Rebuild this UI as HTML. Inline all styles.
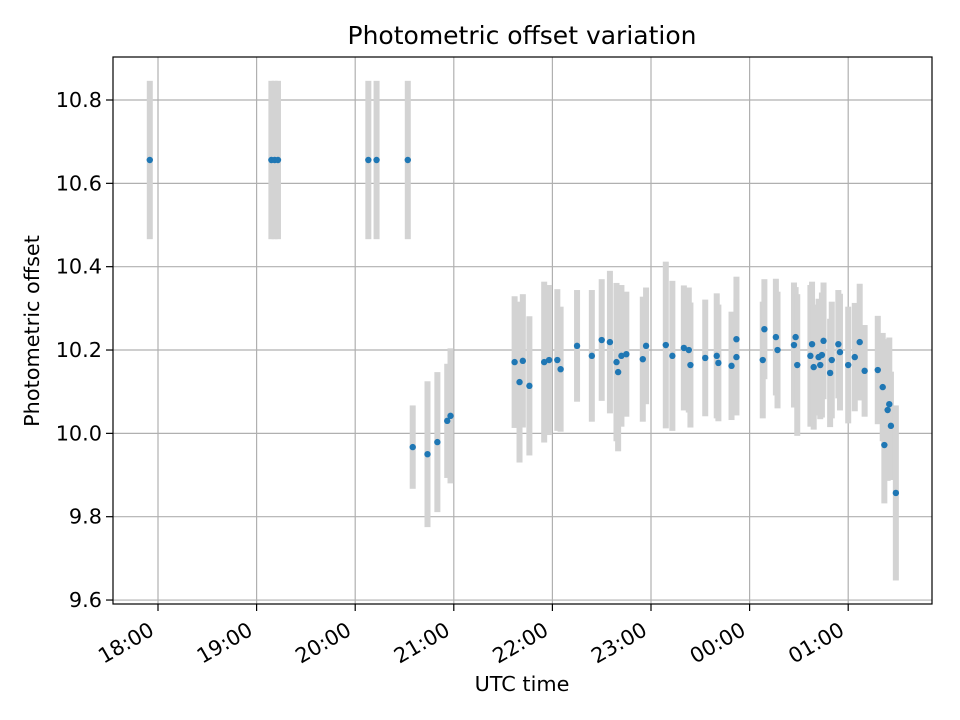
<!DOCTYPE html>
<html><head><meta charset="utf-8"><style>body{margin:0;background:#fff}svg{display:block}text{font-family:"DejaVu Sans","Liberation Sans",sans-serif}</style></head>
<body>
<svg id="chart" width="960" height="720" viewBox="0 0 960 720" xmlns="http://www.w3.org/2000/svg">
<g id="grid"></g>
<g id="errs"></g>
<g id="pts"></g>
<rect x="113" y="57" width="819" height="547" fill="none" stroke="#000" stroke-width="1.2"/>
<g id="axes"></g>
<text x="522" y="44" text-anchor="middle" font-size="25">Photometric offset variation</text>
<text x="522" y="691" text-anchor="middle" font-size="20.8">UTC time</text>
<text transform="translate(39,331) rotate(-90)" text-anchor="middle" font-size="20.8">Photometric offset</text>
</svg>
<script>
// minutes since 18:00 UTC
const times = [-5,69,71,73,128,133,152,155,164,170,176,178,217,220,222,226,235,238,243,245,255,264,270,275,279,280,282,285,295,297,309,313,320,323,324,333,340,341,349,352,352,368,369,376,377,387,388,389,397,398,399,402,403,404,405,409,410,414,415,420,424,427,430,438,441,442,444,445,446,449];
const values = [10.656,10.656,10.656,10.656,10.656,10.656,10.656,9.967,9.950,9.979,10.030,10.042,10.171,10.123,10.174,10.114,10.171,10.176,10.176,10.154,10.210,10.186,10.224,10.219,10.171,10.147,10.186,10.190,10.178,10.210,10.212,10.186,10.205,10.200,10.164,10.181,10.186,10.169,10.162,10.183,10.226,10.176,10.250,10.231,10.200,10.212,10.231,10.164,10.186,10.214,10.159,10.183,10.164,10.188,10.222,10.145,10.176,10.214,10.195,10.164,10.183,10.219,10.150,10.152,10.111,9.972,10.056,10.070,10.018,9.857];
const errors = [0.19,0.19,0.19,0.19,0.19,0.19,0.19,0.10,0.175,0.168,0.137,0.162,0.158,0.193,0.16,0.167,0.193,0.18,0.17,0.15,0.134,0.158,0.146,0.171,0.19,0.19,0.17,0.15,0.15,0.14,0.2,0.18,0.15,0.15,0.15,0.14,0.15,0.14,0.13,0.14,0.15,0.14,0.12,0.14,0.14,0.15,0.12,0.17,0.17,0.15,0.15,0.14,0.13,0.15,0.14,0.13,0.14,0.13,0.14,0.14,0.13,0.14,0.11,0.13,0.13,0.14,0.17,0.16,0.13,0.21];
const yTicks = [9.6,9.8,10.0,10.2,10.4,10.6,10.8];
const xTickMinutes = [0,60,120,180,240,300,360,420];
const xTickLabels = ["18:00","19:00","20:00","21:00","22:00","23:00","00:00","01:00"];

const NS="http://www.w3.org/2000/svg";
const X = m => 158 + m*98.6/60;
const Y = v => 100 + (10.8 - v)*416.7;
function mk(parent,tag,attrs){const e=document.createElementNS(NS,tag);for(const k in attrs)e.setAttribute(k,attrs[k]);document.getElementById(parent).appendChild(e);return e;}
yTicks.forEach(t=>{
  const y=Y(t);
  let g=mk('grid','line',{x1:113,x2:932,y1:y,y2:y,stroke:'#b0b0b0','stroke-width':1.2});
  
  
  let tk=mk('axes','line',{x1:106,x2:113,y1:y,y2:y,stroke:'#000','stroke-width':1.2});
  
  
  let tx=mk('axes','text',{x:102,y:y+7,'text-anchor':'end','font-size':20.8});
  tx.textContent=t.toFixed(1);
  
  
});
xTickMinutes.forEach((m,i)=>{
  const x=X(m);
  let g=mk('grid','line',{x1:x,x2:x,y1:57,y2:604,stroke:'#b0b0b0','stroke-width':1.2});
  
  
  let tk=mk('axes','line',{x1:x,x2:x,y1:604,y2:611,stroke:'#000','stroke-width':1.2});
  
  
  let tx=mk('axes','text',{transform:`translate(${x-2.5},${634}) rotate(-30)`,'text-anchor':'end','font-size':20.8});
  tx.textContent=xTickLabels[i];
  
  
});
times.forEach((m,i)=>{
  const x=X(m);
  let r=mk('errs','rect',{x:x-3,y:Y(values[i]+errors[i]),width:6,height:Y(values[i]-errors[i])-Y(values[i]+errors[i]),fill:'#d3d3d3'});
  
  
  let c=mk('pts','circle',{cx:x,cy:Y(values[i]),r:3.2,fill:'#1f77b4'});
  
  
});
</script>
</body></html>
